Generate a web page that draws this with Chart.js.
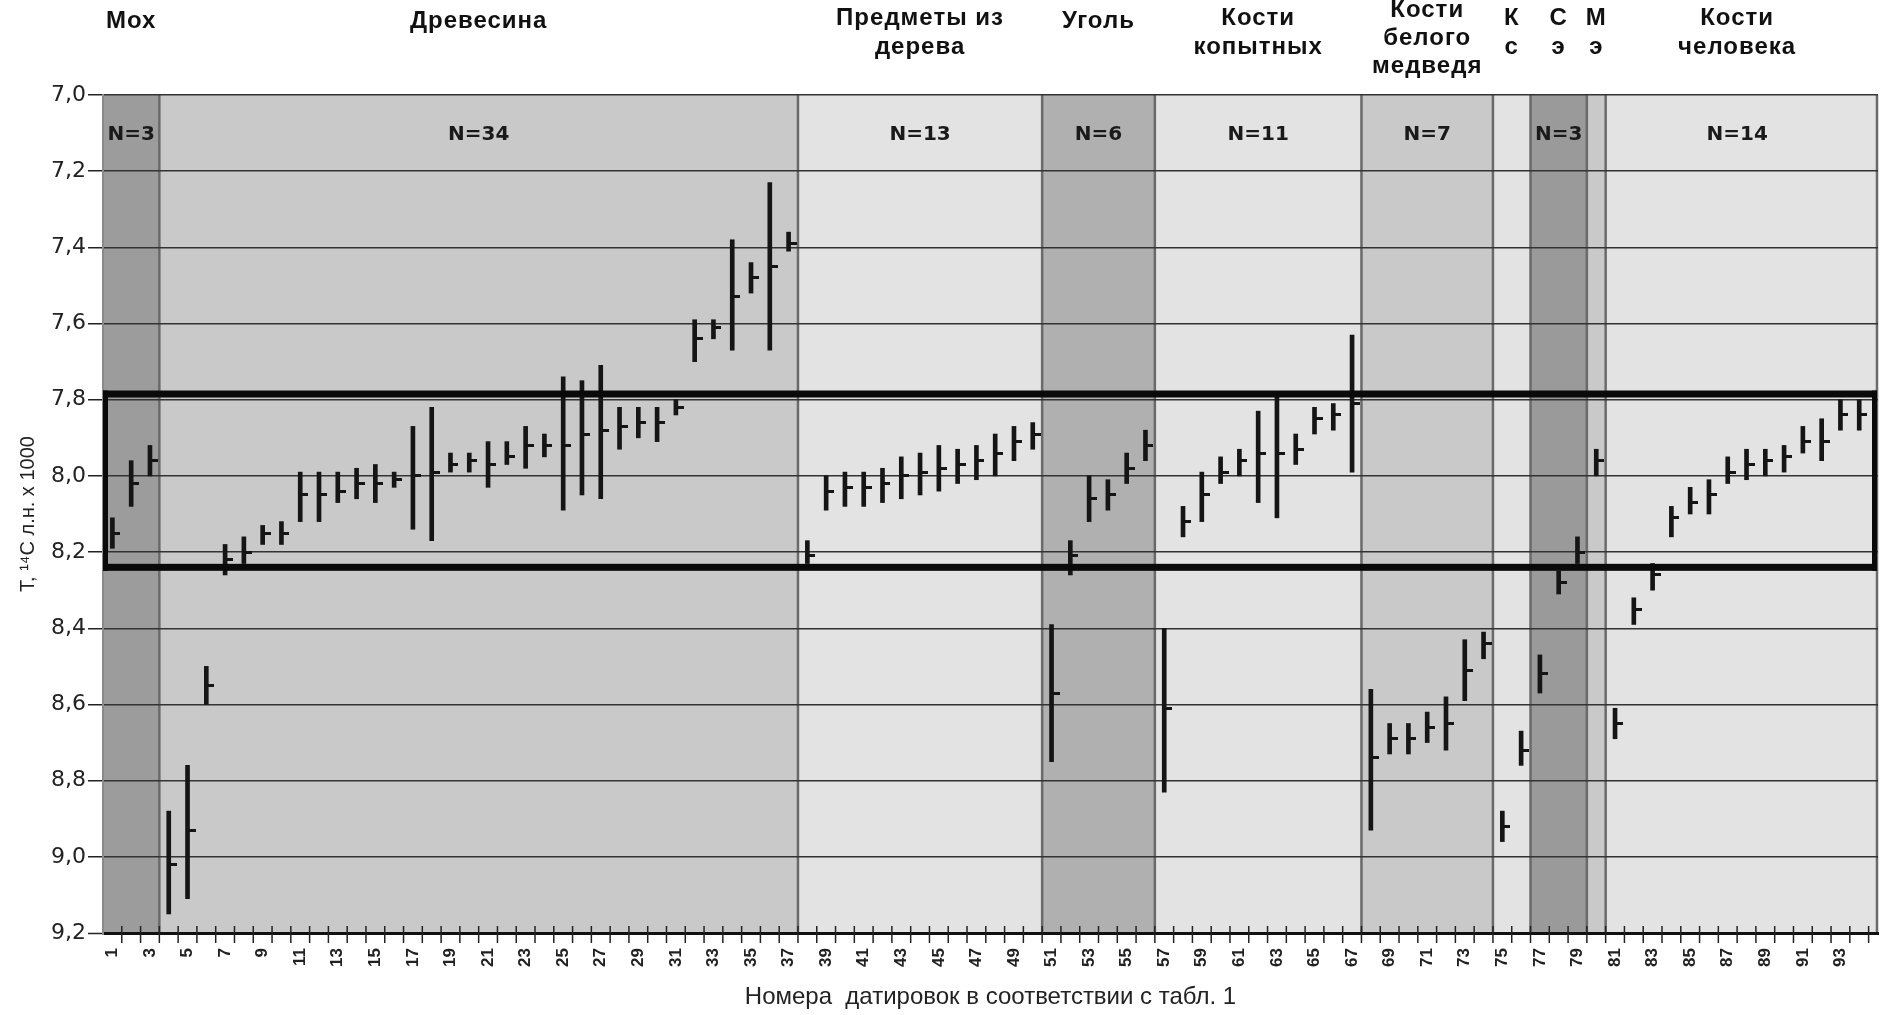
<!DOCTYPE html>
<html>
<head>
<meta charset="utf-8">
<script src="https://cdn.jsdelivr.net/npm/chart.js@4.4.1/dist/chart.umd.min.js"></script>
<style>
  body { margin: 0; background: #fff; }
  #wrap { width: 1883px; height: 1015px; }
</style>
</head>
<body>
<div id="wrap"><canvas id="myChart"></canvas></div>
<script>
// dating numbers 1..94 (as in table 1)
var ids = [];
for (var n = 1; n <= 94; n++) ids.push(n);

// upper / lower bound of each date, T x 1000 years BP
var lows = [8.11, 7.96, 7.92, 8.88, 8.76, 8.50, 8.18, 8.16, 8.13, 8.12,
            7.99, 7.99, 7.99, 7.98, 7.97, 7.99, 7.87, 7.82, 7.94, 7.94,
            7.91, 7.91, 7.87, 7.89, 7.74, 7.75, 7.71, 7.82, 7.82, 7.82,
            7.80, 7.59, 7.59, 7.38, 7.44, 7.23, 7.36, 8.17, 8.00, 7.99,
            7.99, 7.98, 7.95, 7.94, 7.92, 7.93, 7.92, 7.89, 7.87, 7.86,
            8.39, 8.17, 8.00, 8.01, 7.94, 7.88, 8.40, 8.08, 7.99, 7.95,
            7.93, 7.83, 7.79, 7.89, 7.82, 7.81, 7.63, 8.56, 8.65, 8.65,
            8.62, 8.58, 8.43, 8.41, 8.88, 8.67, 8.47, 8.25, 8.16, 7.93,
            8.61, 8.32, 8.23, 8.08, 8.03, 8.01, 7.95, 7.93, 7.93, 7.92,
            7.87, 7.85, 7.80, 7.80];
var highs = [8.19, 8.08, 8.00, 9.15, 9.11, 8.60, 8.26, 8.23, 8.18, 8.18,
             8.12, 8.12, 8.07, 8.06, 8.07, 8.03, 8.14, 8.17, 7.99, 7.99,
             8.03, 7.97, 7.98, 7.95, 8.09, 8.05, 8.06, 7.93, 7.90, 7.91,
             7.84, 7.70, 7.64, 7.67, 7.52, 7.67, 7.41, 8.23, 8.09, 8.08,
             8.08, 8.07, 8.06, 8.05, 8.04, 8.02, 8.01, 8.00, 7.96, 7.93,
             8.75, 8.26, 8.12, 8.09, 8.02, 7.96, 8.83, 8.16, 8.12, 8.02,
             8.00, 8.07, 8.11, 7.97, 7.89, 7.88, 7.99, 8.93, 8.73, 8.73,
             8.70, 8.72, 8.59, 8.48, 8.96, 8.76, 8.57, 8.31, 8.23, 8.00,
             8.69, 8.39, 8.30, 8.16, 8.10, 8.10, 8.02, 8.01, 8.00, 7.99,
             7.94, 7.96, 7.88, 7.88];
var means = [8.15, 8.02, 7.96, 9.02, 8.93, 8.55, 8.22, 8.20, 8.15, 8.15,
             8.05, 8.05, 8.04, 8.02, 8.02, 8.01, 8.00, 7.99, 7.97, 7.96,
             7.97, 7.95, 7.92, 7.92, 7.92, 7.89, 7.88, 7.87, 7.86, 7.86,
             7.82, 7.64, 7.61, 7.53, 7.48, 7.45, 7.39, 8.21, 8.04, 8.03,
             8.03, 8.02, 8.00, 7.99, 7.98, 7.97, 7.96, 7.94, 7.91, 7.89,
             8.57, 8.21, 8.06, 8.05, 7.98, 7.92, 8.61, 8.12, 8.05, 7.99,
             7.96, 7.94, 7.94, 7.93, 7.85, 7.84, 7.81, 8.74, 8.69, 8.69,
             8.66, 8.65, 8.51, 8.44, 8.92, 8.72, 8.52, 8.28, 8.20, 7.96,
             8.65, 8.35, 8.26, 8.11, 8.07, 8.05, 7.99, 7.97, 7.96, 7.95,
             7.91, 7.91, 7.84, 7.84];

// material groups
var groupTitles = [['Мох'], ['Древесина'], ['Предметы из', 'дерева'], ['Уголь'],
                   ['Кости', 'копытных'], ['Кости', 'белого', 'медведя'],
                   ['К', 'с'], ['С', 'э'], ['М', 'э'], ['Кости', 'человека']];
var groupStart = [1, 4, 38, 51, 57, 68, 75, 77, 80, 81];
var groupEnd   = [3, 37, 50, 56, 67, 74, 76, 79, 80, 94];
var groupN     = ['N=3', 'N=34', 'N=13', 'N=6', 'N=11', 'N=7', '', 'N=3', '', 'N=14'];
var groupFill  = ['#9c9c9c', '#c9c9c9', '#e3e3e3', '#b0b0b0', '#e3e3e3',
                  '#c9c9c9', '#e3e3e3', '#9a9a9a', '#c9c9c9', '#e3e3e3'];

// framed interval
var frameRange = [7.785, 8.24];

var yTicks = [7.0, 9.2, 0.2];

// small dash to the right of the bar marks the mean
var dash = document.createElement('canvas');
dash.width = 16; dash.height = 3;
var dctx = dash.getContext('2d');
dctx.fillStyle = '#151515';
dctx.fillRect(8, 0, 8, 3);

var bandsPlugin = {
    id: 'bands',
    beforeDraw: function(chart) {
        var ctx = chart.ctx, a = chart.chartArea, x = chart.scales.x;
        ctx.save();
        for (var g = 0; g < groupStart.length; g++) {
            var x0 = x.getPixelForValue(groupStart[g] - 0.5);
            var x1 = g === groupStart.length - 1 ? a.right : x.getPixelForValue(groupEnd[g] + 0.5);
            ctx.fillStyle = groupFill[g];
            ctx.fillRect(x0, a.top, x1 - x0, a.bottom - a.top);
        }
        ctx.strokeStyle = '#6a6a6a';
        ctx.lineWidth = 2.5;
        for (var g = 1; g < groupStart.length; g++) {
            var px = x.getPixelForValue(groupStart[g] - 0.5);
            ctx.beginPath(); ctx.moveTo(px, a.top); ctx.lineTo(px, a.bottom); ctx.stroke();
        }
        ctx.beginPath(); ctx.moveTo(a.right - 1, a.top); ctx.lineTo(a.right - 1, a.bottom); ctx.stroke();
        ctx.restore();
    },
    afterDatasetsDraw: function(chart) {
        var ctx = chart.ctx, a = chart.chartArea, y = chart.scales.y;
        var yt = y.getPixelForValue(frameRange[0]), yb = y.getPixelForValue(frameRange[1]);
        ctx.save();
        ctx.fillStyle = '#0a0a0a';
        ctx.fillRect(a.left, yt - 3.5, a.right - a.left - 1, 7);
        ctx.fillRect(a.left, yb - 3.5, a.right - a.left - 1, 7);
        ctx.fillRect(a.left, yt - 3.5, 5, yb - yt + 7);
        ctx.fillRect(a.right - 6, yt - 3.5, 5, yb - yt + 7);
        ctx.restore();
    },
    afterDraw: function(chart) {
        var ctx = chart.ctx, a = chart.chartArea, x = chart.scales.x;
        ctx.save();
        // tick marks between the dates
        ctx.strokeStyle = '#222';
        ctx.lineWidth = 1.5;
        for (var k = 1; k <= ids.length; k++) {
            var tx = x.getPixelForValue(k + 0.5);
            ctx.beginPath(); ctx.moveTo(tx, a.bottom - 7); ctx.lineTo(tx, a.bottom + 10); ctx.stroke();
        }
        ctx.textAlign = 'center';
        ctx.textBaseline = 'middle';
        ctx.fillStyle = '#111';
        for (var g = 0; g < groupStart.length; g++) {
            var cx = (x.getPixelForValue(groupStart[g] - 0.5) + x.getPixelForValue(groupEnd[g] + 0.5)) / 2;
            var lines = groupTitles[g];
            var ys = lines.length === 1 ? [21] : lines.length === 2 ? [18, 47] : [10, 38, 66];
            ctx.font = 'bold 24px "Liberation Sans", Arial, sans-serif';
            ctx.letterSpacing = '1px';
            for (var l = 0; l < lines.length; l++) ctx.fillText(lines[l], cx, ys[l]);
            ctx.letterSpacing = '0px';
            if (groupN[g]) {
                ctx.font = 'bold 20px "DejaVu Sans", sans-serif';
                ctx.fillStyle = '#1a1a1a';
                ctx.fillText(groupN[g], cx, a.top + 40);
                ctx.fillStyle = '#111';
            }
        }
        ctx.restore();
    }
};

var ctx = document.getElementById('myChart');

var myChart = new Chart(ctx, {
    type: 'bar',
    data: {
        datasets: [{
            type: 'bar',
            label: 'interval',
            data: ids.map(function(id, i) { return {x: id, y: [lows[i], highs[i]]}; }),
            backgroundColor: '#151515',
            barThickness: 4,
            borderWidth: 0
        },
        {
            type: 'scatter',
            label: 'mean',
            data: ids.map(function(id, i) { return {x: id, y: means[i]}; }),
            pointStyle: dash,
            showLine: false
        }]
    },
    options: {
        responsive: true,
        maintainAspectRatio: false,
        animation: false,
        events: [],
        layout: { padding: { top: 95, right: 3, left: 0, bottom: 0 } },
        plugins: {
            legend: { display: false },
            tooltip: { enabled: false }
        },
        scales: {
            x: {
                type: 'linear',
                offset: false,
                min: 0.5,
                max: 95,
                afterFit: function(scale) {
                    scale.height = 82;
                    scale.paddingLeft = 0;
                    scale.paddingRight = 0;
                },
                grid: { display: false },
                border: { display: true, color: '#111', width: 3 },
                ticks: {
                    stepSize: 1,
                    autoSkip: false,
                    includeBounds: false,
                    minRotation: 90,
                    maxRotation: 90,
                    padding: 7,
                    color: '#222',
                    font: { family: '"Liberation Sans", Arial, sans-serif', size: 17, weight: 'bold' },
                    callback: function(v) { return (v % 2 === 1 && v <= 93) ? String(v) : ''; }
                },
                title: {
                    display: true,
                    text: 'Номера  датировок в соответствии с табл. 1',
                    color: '#222',
                    font: { family: '"Liberation Sans", Arial, sans-serif', size: 24 },
                    padding: { top: 0, bottom: 3 }
                }
            },
            y: {
                reverse: true,
                min: yTicks[0],
                max: yTicks[1],
                afterFit: function(scale) { scale.width = 103; },
                grid: {
                    color: '#333',
                    lineWidth: function(c) { return c.index === 0 ? 3 : 1.5; },
                    tickColor: '#222',
                    tickLength: 15,
                    tickWidth: 1.5
                },
                border: { display: true, color: '#8a8a8a', width: 2 },
                ticks: {
                    stepSize: yTicks[2],
                    padding: 2,
                    color: '#222',
                    font: { family: '"DejaVu Sans", sans-serif', size: 22 },
                    callback: function(v) { return Number(v).toFixed(1).replace('.', ','); }
                },
                title: {
                    display: true,
                    text: 'T, ¹⁴C л.н. х 1000',
                    color: '#222',
                    font: { family: '"Liberation Sans", Arial, sans-serif', size: 20 },
                    padding: { top: 16, bottom: 0 }
                }
            }
        }
    },
    plugins: [bandsPlugin]
});
</script>
</body>
</html>
